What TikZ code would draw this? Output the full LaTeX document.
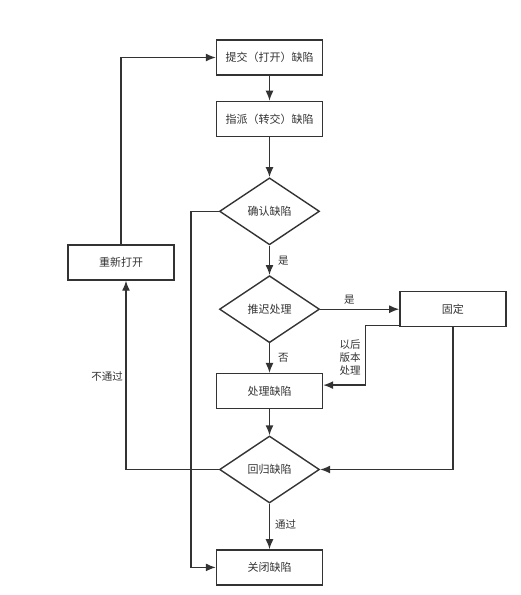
\documentclass[tikz,border=0pt]{standalone}
\usepackage{fontspec}
\setmainfont{Noto Sans CJK SC}
\usepackage{tikz}
\usetikzlibrary{shapes.geometric,arrows.meta,positioning}
\definecolor{ink}{HTML}{333333}
\tikzset{decision/.style={diamond, draw=ink, line width=1.4pt, minimum width=100pt, minimum height=67pt, aspect=1.5, inner sep=0pt, text=ink, font=\fontsize{11}{12}\selectfont}}
\tikzset{stage/.style={rectangle, draw=ink, line width=1.4pt, minimum width=106pt, minimum height=35pt, inner sep=0pt, text=ink, font=\fontsize{11}{12}\selectfont}}
\tikzset{line/.style={draw=ink, line width=1.4pt, -{Latex[length=10pt,width=8pt]}}}
\tikzset{tag/.style={text=ink, inner sep=0pt, font=\fontsize{10.5}{13}\selectfont}}

\begin{document}
\begin{tikzpicture}[x=1pt, y=-1pt]
        \useasboundingbox (0,0) rectangle (520,595);
        \node[stage] (subm) at (269.5,57.5) {提交（打开）缺陷};
        \node[stage, below=25pt of subm] (assg) {指派（转交）缺陷};
        \node[decision, below=40pt of assg] (conf) {确认缺陷};
        \node[decision, below=29.5pt of conf] (defr) {推迟处理};
        \node[stage, right=79pt of defr] (fixd) {固定};
        \node[stage, below=29.5pt of defr] (proc) {处理缺陷};
        \node[decision, below=26pt of proc] (regr) {回归缺陷};
        \node[stage, below=45.5pt of regr] (clos) {关闭缺陷};
        \node[stage] (reop) at (121,262.5) {重新打开};
        \coordinate (skip) at ([xshift=-28pt]conf.west);

        \path[line] (subm) --          (assg);
        \path[line] (assg) --          (conf);
        \path[line] (conf) --          node[tag, right=8pt] {是} (defr);
        \path[line] (defr) --          node[tag, pos=0.37, above=4pt] {是} (fixd);
        \path[line] (defr) --          node[tag, right=8pt] {否} (proc);
        \path[line] (proc) --          (regr);
        \path[line] (regr) --          node[tag, right=5pt, pos=0.45] {通过} (clos);
        \path[line] (conf.west) -- (skip) |- (clos.west);
        \path[line] (reop.north) |- (subm.west);
        \path[line] (regr.west) -| ([xshift=5pt]reop.south);
        \path[line] (fixd.south) |- (regr.east);
        \path[line] ([yshift=2pt]fixd.south west) -| ([xshift=42pt,yshift=6pt]proc.east) -- ([yshift=6pt]proc.east);

        \node[tag] (fail) at (107,377) {不通过};
        \node[tag, align=center] (latr) at (350,358) {以后\\版本\\处理};
      \end{tikzpicture}
\end{document}
